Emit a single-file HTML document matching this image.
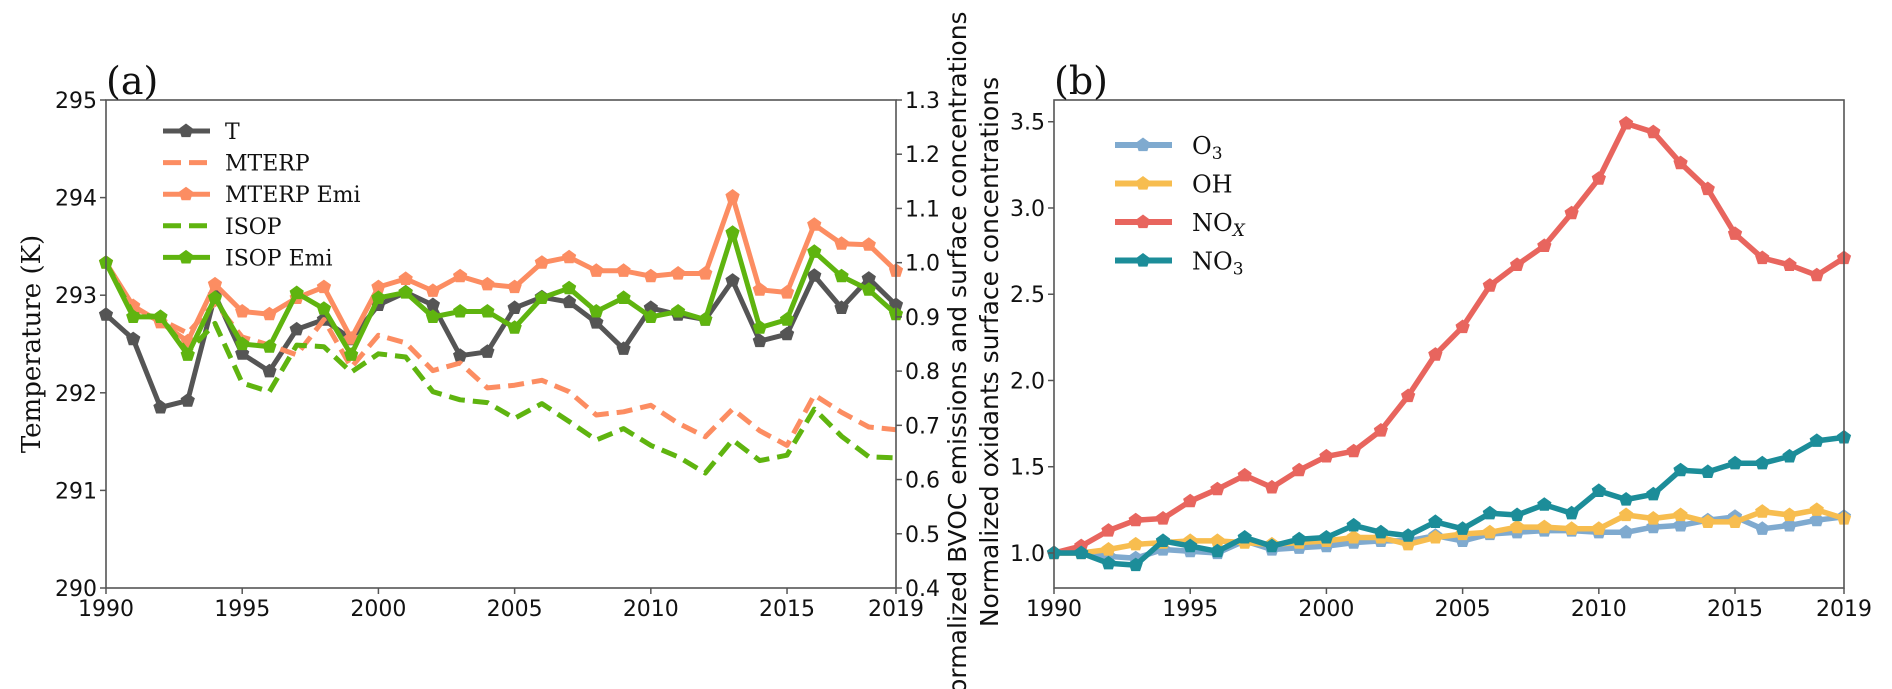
<!DOCTYPE html>
<html><head><meta charset="utf-8"><style>
html,body{margin:0;padding:0;background:#fff;}
svg{display:block;}
text{font-family:"DejaVu Sans","Liberation Sans",sans-serif;fill:#111;}
.serif{font-family:"DejaVu Serif","Liberation Serif",serif;}
</style></head><body>
<svg id="chart" width="1892" height="689" viewBox="0 0 1892 689" xmlns="http://www.w3.org/2000/svg">
<g id="pa"></g>
<g id="pb"></g>
</svg>
<script>
const years = [1990,1991,1992,1993,1994,1995,1996,1997,1998,1999,2000,2001,2002,2003,2004,2005,2006,2007,2008,2009,2010,2011,2012,2013,2014,2015,2016,2017,2018,2019];
const xTicks = [1990,1995,2000,2005,2010,2015,2019];
const tempTicks = [290,291,292,293,294,295];
const bvocTicks = [0.4,0.5,0.6,0.7,0.8,0.9,1.0,1.1,1.2,1.3];
const oxTicks = [1.0,1.5,2.0,2.5,3.0,3.5];
const tempT = [292.8,292.55,291.85,291.92,293.0,292.4,292.22,292.65,292.75,292.55,292.9,293.03,292.9,292.38,292.42,292.87,292.98,292.93,292.72,292.45,292.87,292.8,292.75,293.15,292.53,292.6,293.2,292.87,293.17,292.9];
const mterp = [1.0,0.908,0.895,0.87,0.926,0.863,0.848,0.83,0.895,0.807,0.866,0.852,0.801,0.815,0.769,0.774,0.783,0.762,0.719,0.725,0.737,0.704,0.679,0.73,0.69,0.663,0.756,0.724,0.697,0.692];
const mterpEmi = [1.0,0.92,0.89,0.855,0.96,0.91,0.905,0.935,0.955,0.86,0.955,0.97,0.948,0.975,0.96,0.955,1.0,1.01,0.985,0.985,0.975,0.98,0.98,1.122,0.95,0.945,1.07,1.035,1.033,0.985];
const isop = [1.0,0.905,0.9,0.835,0.888,0.778,0.762,0.848,0.845,0.798,0.832,0.826,0.762,0.747,0.742,0.713,0.74,0.707,0.673,0.694,0.663,0.642,0.612,0.673,0.635,0.645,0.73,0.68,0.642,0.64];
const isopEmi = [1.0,0.9,0.9,0.83,0.935,0.85,0.845,0.944,0.915,0.83,0.935,0.945,0.9,0.91,0.91,0.88,0.935,0.953,0.91,0.935,0.9,0.91,0.895,1.055,0.88,0.895,1.02,0.975,0.95,0.905];
const o3 = [1.0,1.0,0.98,0.97,1.02,1.01,1.0,1.07,1.02,1.03,1.04,1.06,1.07,1.07,1.1,1.07,1.11,1.12,1.13,1.13,1.12,1.12,1.15,1.16,1.19,1.21,1.14,1.16,1.19,1.21];
const oh = [1.0,1.0,1.02,1.05,1.06,1.07,1.07,1.06,1.05,1.06,1.07,1.09,1.09,1.05,1.09,1.11,1.12,1.15,1.15,1.14,1.14,1.22,1.2,1.22,1.18,1.18,1.24,1.22,1.25,1.2];
const nox = [1.0,1.04,1.13,1.19,1.2,1.3,1.37,1.45,1.38,1.48,1.56,1.59,1.71,1.91,2.15,2.31,2.55,2.67,2.78,2.97,3.17,3.49,3.44,3.26,3.11,2.85,2.71,2.67,2.61,2.71];
const no3 = [1.0,1.0,0.94,0.93,1.07,1.04,1.01,1.09,1.04,1.08,1.09,1.16,1.12,1.1,1.18,1.14,1.23,1.22,1.28,1.23,1.36,1.31,1.34,1.48,1.47,1.52,1.52,1.56,1.65,1.67];

const NS="http://www.w3.org/2000/svg";
function mk(parent,tag,attrs,txt){const e=document.createElementNS(NS,tag);for(const k in attrs)e.setAttribute(k,attrs[k]);if(txt!==undefined)e.textContent=txt;parent.appendChild(e);return e;}
function pent(cx,cy,r){let p=[];for(let i=0;i<5;i++){const a=-Math.PI/2+i*2*Math.PI/5;p.push((cx+r*Math.cos(a)).toFixed(1)+","+(cy+r*Math.sin(a)).toFixed(1));}return p.join(" ");}

const A={x0:106,x1:896,y0:100,y1:588};
const ax=y=>A.x0+(y-1990)/(2019-1990)*(A.x1-A.x0);
const ayT=t=>A.y1-(t-290)/(295-290)*(A.y1-A.y0);
const ayN=v=>A.y1-(v-0.4)/(1.3-0.4)*(A.y1-A.y0);
const B={x0:1054,x1:1844,y0:100,y1:588};
const bx=y=>B.x0+(y-1990)/(2019-1990)*(B.x1-B.x0);
const by=v=>B.y1-(v-0.797)/(3.626-0.797)*(B.y1-B.y0);

const pa=document.getElementById('pa');
const pb=document.getElementById('pb');

function series(g,name,vals,xf,yf,color,dash,marker,lw){
  const gg=mk(g,'g',{});
  
  
  const pts=vals.map((v,i)=>xf(years[i]).toFixed(1)+","+yf(v).toFixed(1)).join(" ");
  const pl=mk(gg,'polyline',{points:pts,fill:'none',stroke:color,'stroke-width':lw,'stroke-linejoin':'round'});
  if(dash)pl.setAttribute('stroke-dasharray',dash);
  
  
  if(marker){vals.forEach((v,i)=>{const m=mk(gg,'polygon',{points:pent(xf(years[i]),yf(v),7.5),fill:color});
    
    });}
}

series(pa,'series-t',tempT,ax,ayT,'#555555',null,true,5);
series(pa,'series-mterp',mterp,ax,ayN,'#fc8d62','16,8',false,5);
series(pa,'series-mterp-emi',mterpEmi,ax,ayN,'#fc8d62',null,true,5);
series(pa,'series-isop',isop,ax,ayN,'#5fb40f','16,8',false,5);
series(pa,'series-isop-emi',isopEmi,ax,ayN,'#5fb40f',null,true,5);
const fa=mk(pa,'rect',{x:A.x0,y:A.y0,width:A.x1-A.x0,height:A.y1-A.y0,fill:'none',stroke:'#555','stroke-width':1.6});


xTicks.forEach(t=>{mk(pa,'line',{x1:ax(t),x2:ax(t),y1:A.y1,y2:A.y1+6,stroke:'#555','stroke-width':1.5});
  const l=mk(pa,'text',{x:ax(t),y:A.y1+28,'font-size':22,'text-anchor':'middle'},String(t));
  
  });
tempTicks.forEach(t=>{mk(pa,'line',{x1:A.x0-6,x2:A.x0,y1:ayT(t),y2:ayT(t),stroke:'#555','stroke-width':1.5});
  const l=mk(pa,'text',{x:A.x0-9,y:ayT(t)+8,'font-size':22,'text-anchor':'end'},String(t));
  
  });
bvocTicks.forEach(t=>{mk(pa,'line',{x1:A.x1,x2:A.x1+6,y1:ayN(t),y2:ayN(t),stroke:'#555','stroke-width':1.5});
  const l=mk(pa,'text',{x:A.x1+9,y:ayN(t)+8,'font-size':22,'text-anchor':'start'},t.toFixed(1));
  
  });
let t1=mk(pa,'text',{x:0,y:0,'font-size':26,'text-anchor':'middle',class:'serif',transform:'translate(40,344) rotate(-90)'},'Temperature (K)');


let t2=mk(pa,'text',{x:0,y:0,'font-size':25,'text-anchor':'middle',transform:'translate(966,362) rotate(-90)'},'Normalized BVOC emissions and surface concentrations');


let p1=mk(pa,'text',{x:106,y:94,'font-size':38,class:'serif'},'(a)');



const legA=[['T','#555555',null,true],['MTERP','#fc8d62','16,8',false],['MTERP Emi','#fc8d62',null,true],['ISOP','#5fb40f','16,8',false],['ISOP Emi','#5fb40f',null,true]];
const lg=mk(pa,'g',{});


legA.forEach((e,i)=>{const y=131+i*31.6;const ge=mk(lg,'g',{});
  
  
  const ln=mk(ge,'line',{x1:163,x2:210,y1:y,y2:y,stroke:e[1],'stroke-width':5});
  if(e[2])ln.setAttribute('stroke-dasharray','18,8');
  if(e[3])mk(ge,'polygon',{points:pent(186,y,7.5),fill:e[1]});
  mk(ge,'text',{x:225,y:y+8,'font-size':22,class:'serif'},e[0]);});

series(pb,'series-o3',o3,bx,by,'#7faacf',null,true,5.5);
series(pb,'series-oh',oh,bx,by,'#f7bd4f',null,true,5.5);
series(pb,'series-nox',nox,bx,by,'#e8655e',null,true,5.5);
series(pb,'series-no3',no3,bx,by,'#1c8d99',null,true,5.5);
const fb=mk(pb,'rect',{x:B.x0,y:B.y0,width:B.x1-B.x0,height:B.y1-B.y0,fill:'none',stroke:'#555','stroke-width':1.6});


xTicks.forEach(t=>{mk(pb,'line',{x1:bx(t),x2:bx(t),y1:B.y1,y2:B.y1+6,stroke:'#555','stroke-width':1.5});
  const l=mk(pb,'text',{x:bx(t),y:B.y1+28,'font-size':22,'text-anchor':'middle'},String(t));
  
  });
oxTicks.forEach(t=>{mk(pb,'line',{x1:B.x0-6,x2:B.x0,y1:by(t),y2:by(t),stroke:'#555','stroke-width':1.5});
  const l=mk(pb,'text',{x:B.x0-9,y:by(t)+8,'font-size':22,'text-anchor':'end'},t.toFixed(1));
  
  });
let t3=mk(pb,'text',{x:0,y:0,'font-size':25,'text-anchor':'middle',transform:'translate(998,352) rotate(-90)'},'Normalized oxidants surface concentrations');


let p2=mk(pb,'text',{x:1054,y:94,'font-size':38,class:'serif'},'(b)');



const legB=[['O','3','#7faacf'],['OH','','#f7bd4f'],['NO','X','#e8655e'],['NO','3','#1c8d99']];
const lgb=mk(pb,'g',{});


legB.forEach((e,i)=>{const y=145+i*38.5;const ge=mk(lgb,'g',{});
  
  
  mk(ge,'line',{x1:1115,x2:1172,y1:y,y2:y,stroke:e[2],'stroke-width':6});
  mk(ge,'polygon',{points:pent(1143,y,7.5),fill:e[2]});
  const tx=mk(ge,'text',{x:1192,y:y+9,'font-size':24,class:'serif'},e[0]);
  if(e[1]){mk(tx,'tspan',{'font-size':17,dy:5,'font-style':e[1]==='X'?'italic':'normal'},e[1]);}
});
</script>
</body></html>
